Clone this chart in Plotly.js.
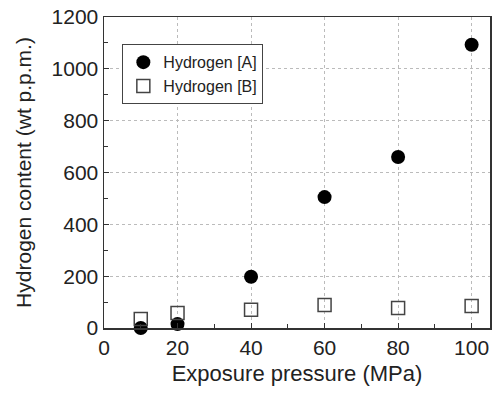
<!DOCTYPE html>
<html><head><meta charset="utf-8">
<script src="https://cdn.plot.ly/plotly-3.0.1.min.js"></script>
<style>html,body{margin:0;padding:0;background:#fff}#c{width:492px;height:395px}</style>
</head><body><div id="c"></div>
<script>
const pressure = [10, 20, 40, 60, 80, 100];
const hydrogenA = [0, 15, 198, 505, 660, 1093];
const hydrogenB = [35, 58, 70, 89, 77, 85];
const xTicks = [0, 20, 40, 60, 80, 100];
const yTicks = [0, 200, 400, 600, 800, 1000, 1200];

const font = 'Liberation Sans, Arial, sans-serif';
const traces = [
  {x: pressure, y: hydrogenA, name: 'Hydrogen [A]', mode: 'markers', type: 'scatter',
   marker: {symbol: 'circle', size: 14, color: '#000'}, cliponaxis: false},
  {x: pressure, y: hydrogenB, name: 'Hydrogen [B]', mode: 'markers', type: 'scatter',
   marker: {symbol: 'square-open', size: 13, color: '#444', line: {width: 1.5, color: '#444'}}, cliponaxis: false}
];
const axisCommon = {
  showline: true, mirror: true, linecolor: '#333', linewidth: 1.5,
  ticks: 'inside', ticklen: 5, tickcolor: '#333',
  showgrid: true, gridcolor: '#bbb', griddash: 'dot', gridwidth: 1,
  zeroline: false, tickfont: {family: font, size: 21, color: '#222'}
};
const layout = {
  width: 492, height: 395,
  margin: {l: 104, r: 2, t: 17, b: 67},
  paper_bgcolor: '#fff', plot_bgcolor: '#fff',
  showlegend: true,
  legend: {x: 0.047, y: 0.913, xanchor: 'left', yanchor: 'top',
    bgcolor: '#fff', bordercolor: '#444', borderwidth: 1.2,
    font: {family: font, size: 16, color: '#222'}, itemwidth: 30, tracegroupgap: 0},
  xaxis: Object.assign({}, axisCommon, {
    range: [0, 105], tickmode: 'array', tickvals: xTicks, ticktext: xTicks.map(String),
    minor: {dtick: 10, tick0: 0, ticks: 'inside', ticklen: 4, tickcolor: '#333', showgrid: false},
    title: {text: 'Exposure pressure (MPa)', font: {family: font, size: 22, color: '#222'}, standoff: 8}
  }),
  yaxis: Object.assign({}, axisCommon, {
    range: [0, 1200], tickmode: 'array', tickvals: yTicks, ticktext: yTicks.map(String),
    minor: {dtick: 100, tick0: 0, ticks: 'inside', ticklen: 4, tickcolor: '#333', showgrid: false},
    title: {text: 'Hydrogen content (wt p.p.m.)', font: {family: font, size: 21, color: '#222'}, standoff: 14}
  })
};
Plotly.newPlot('c', traces, layout, {displayModeBar: false, staticPlot: true});
</script></body></html>
